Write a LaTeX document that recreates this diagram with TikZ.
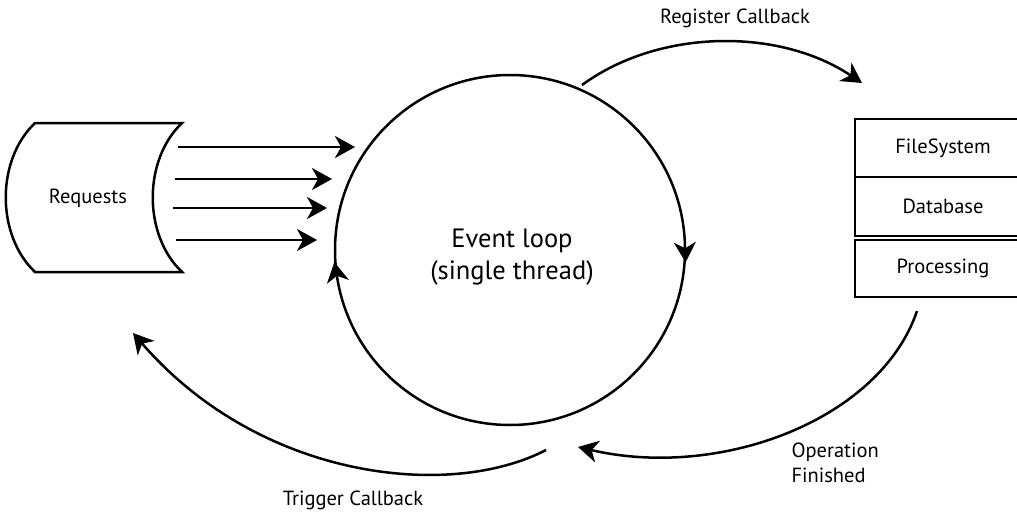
\documentclass[tikz,border=0pt]{standalone}
\usepackage{fontspec}
\setmainfont{PT Sans}
\usetikzlibrary{arrows.meta,decorations.markings}

\begin{document}
\begin{tikzpicture}[x=1pt,y=-1pt]
    \tikzstyle{flow} = [line width=2.5pt, -{Stealth[length=20pt,width=22pt,inset=6pt]}]
    \tikzstyle{lbl} = [font=\fontsize{20.5}{25}\selectfont]
    \tikzstyle{slot} = [draw, line width=2.5pt, minimum width=176pt, lbl]
    \tikzstyle{ring} = [line width=2.5pt, postaction={decorate},
        decoration={markings,
            mark=at position 0.279 with {\arrow{Stealth[reversed,length=20pt,width=22pt,inset=6pt]}},
            mark=at position 0.757 with {\arrow{Stealth[reversed,length=20pt,width=22pt,inset=6pt]}}}]
    \useasboundingbox (0,0) rectangle (1017,514);

    % requests
    \draw[line width=2.5pt] (35,123) -- (182,123) .. controls (143,160) and (143,235) .. (182,272)
        -- (35,272) .. controls (-4,235) and (-4,160) .. cycle;
    \node[lbl] (req) at (88,198) {Requests};
    \foreach \y/\a/\b [count=\i] in {147/178/355, 179/175/332, 208/173/327, 240/176/317} {
        \coordinate (in\i) at (\a,\y);
        \coordinate (out\i) at (\b,\y);
        \draw[flow] (in\i) -- (out\i);
    }

    % event loop
    \node[font=\fontsize{26.5}{32}\selectfont, align=center] (loop) at (512,257) {Event loop\\(single thread)};
    \coordinate (hub) at (510,250);
    \draw[ring] (hub) ++(90:175pt) arc[start angle=90, end angle=450, radius=175pt];

    % workers
    \node[slot, minimum height=58pt] (fs) at (943,148) {FileSystem};
    \node[slot, minimum height=59pt] (db) at (943,206.5) {Database};
    \node[slot, minimum height=57pt] (proc) at (943,268.5) {Processing};

    % callbacks
    \coordinate (reg-a) at (582,85);
    \coordinate (reg-b) at (862,83);
    \draw[flow] (reg-a) .. controls (660,28) and (780,28) .. (reg-b);
    \node[lbl] (reg) at (735,18) {Register Callback};

    \coordinate (fin-a) at (917,311);
    \coordinate (fin-b) at (578,447);
    \draw[flow] (fin-a) .. controls (880,420) and (720,480) .. (fin-b);
    \node[lbl, align=left, anchor=west] (fin) at (788,463) {Operation\\Finished};

    \coordinate (trig-a) at (546,450);
    \coordinate (trig-b) at (133,333);
    \draw[flow] (trig-a) .. controls (450,500) and (260,480) .. (trig-b);
    \node[lbl] (trig) at (353,500) {Trigger Callback};
\end{tikzpicture}
\end{document}
